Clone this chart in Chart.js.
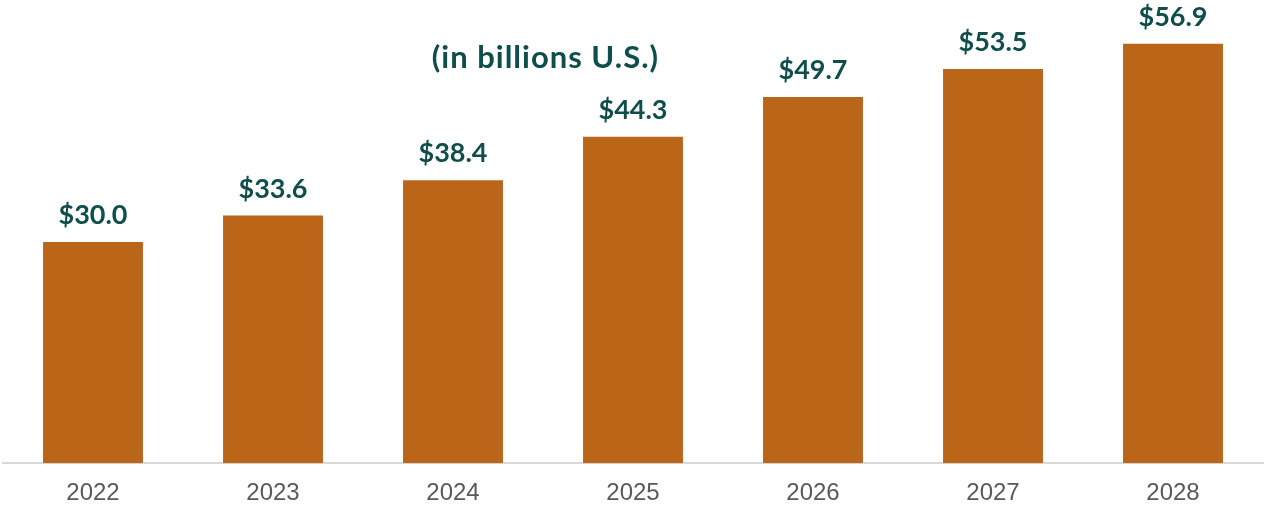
<!DOCTYPE html>
<html>
<head>
<meta charset="utf-8">
<script src="https://cdn.jsdelivr.net/npm/chart.js@4"></script>
<style>
  html, body { margin: 0; padding: 0; background: #ffffff; }
  #wrap { width: 1266px; height: 506px; position: relative; }
</style>
</head>
<body>
<div id="wrap"><canvas id="c"></canvas></div>
<script>
const categories = ['2022', '2023', '2024', '2025', '2026', '2027', '2028'];
const values = [30.0, 33.6, 38.4, 44.3, 49.7, 53.5, 56.9];
const valueLabels = ['$30.0', '$33.6', '$38.4', '$44.3', '$49.7', '$53.5', '$56.9'];
const subtitleText = '(in billions U.S.)';

const TEAL = '#0F4E4A';
const BAR = '#BA6517';

const labelPlugin = {
  id: 'valueLabels',
  afterDatasetsDraw(chart) {
    const ctx = chart.ctx;
    const meta = chart.getDatasetMeta(0);
    ctx.save();
    ctx.fillStyle = TEAL;
    ctx.font = 'bold 27px Lato';
    ctx.textAlign = 'center';
    ctx.textBaseline = 'alphabetic';
    meta.data.forEach((bar, i) => {
      ctx.fillText(valueLabels[i], bar.x, bar.y - 18);
    });
    // subtitle
    ctx.font = 'bold 31px Lato';
    if ('letterSpacing' in ctx) ctx.letterSpacing = '1px';
    ctx.textBaseline = 'middle';
    const ca = chart.chartArea;
    ctx.fillText(subtitleText, ca.left + (ca.right - ca.left) * 0.4305, 58);
    ctx.restore();
  }
};

new Chart(document.getElementById('c'), {
  type: 'bar',
  data: {
    labels: categories,
    datasets: [{
      data: values,
      backgroundColor: BAR,
      borderWidth: 0,
      categoryPercentage: 1.0,
      barPercentage: 0.555
    }]
  },
  options: {
    responsive: true,
    maintainAspectRatio: false,
    animation: false,
    devicePixelRatio: 1,
    layout: { padding: { left: 3, right: 3, top: 21, bottom: -18 } },
    plugins: {
      legend: { display: false },
      tooltip: { enabled: false },
      title: { display: false }
    },
    scales: {
      x: {
        grid: { display: false, drawTicks: false },
        border: { display: true, color: '#D9D9D9', width: 2 },
        ticks: {
          color: '#595959',
          font: { family: 'Liberation Sans', size: 24 },
          padding: 16,
          maxRotation: 0
        }
      },
      y: {
        display: false,
        min: 0,
        max: 60
      }
    }
  },
  plugins: [labelPlugin]
});
</script>
</body>
</html>
